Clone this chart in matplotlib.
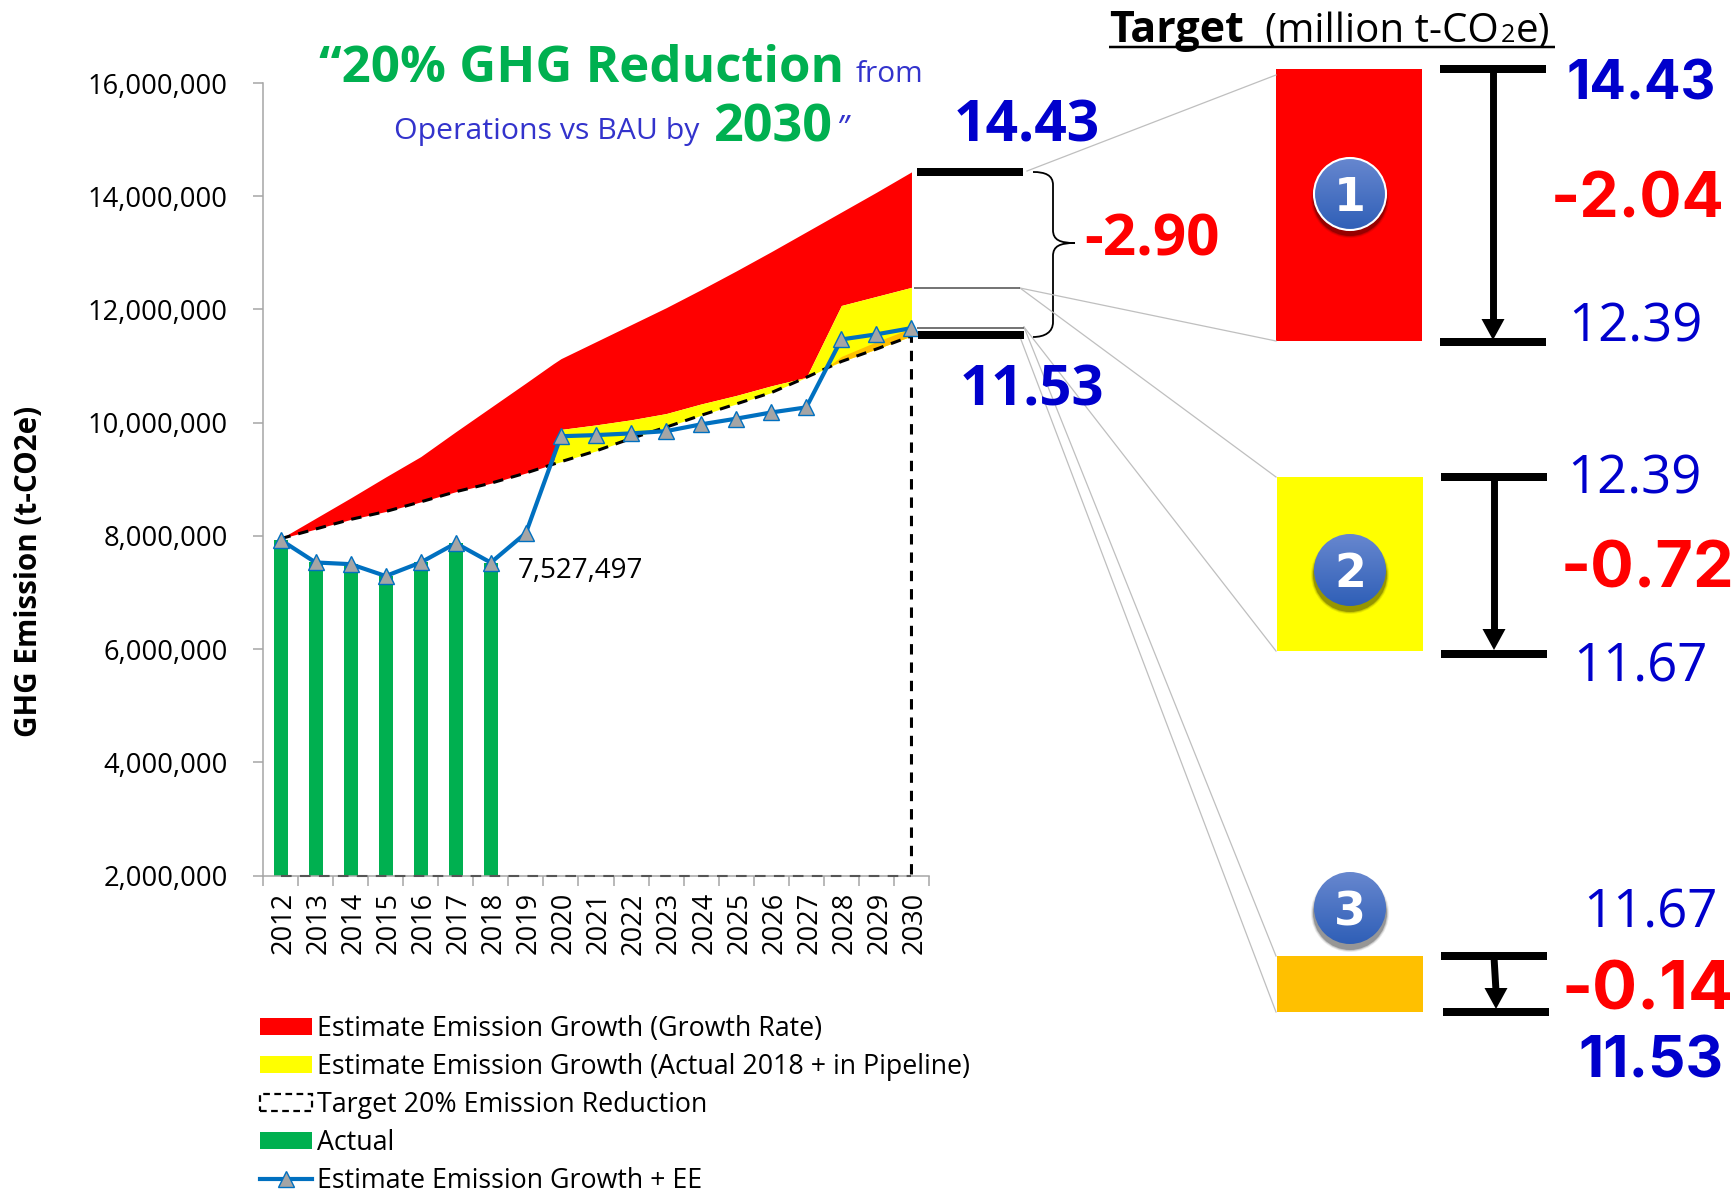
import numpy as np
import matplotlib
matplotlib.use("Agg")
import matplotlib.pyplot as plt
from matplotlib.patches import Rectangle, Circle, Patch, PathPatch, Polygon
from matplotlib.path import Path
from matplotlib.lines import Line2D
from matplotlib.ticker import FuncFormatter
from matplotlib.transforms import ScaledTranslation

plt.rcParams['font.family'] = ['Open Sans', 'DejaVu Sans']

# ---------- data ----------
years = list(range(2012, 2031))
actual = [7930000, 7530000, 7500000, 7290000, 7530000, 7870000, 7527497]
ee_growth = [7930000, 7530000, 7500000, 7290000, 7530000, 7870000, 7527497, 8050000,
             9760000, 9780000, 9810000, 9850000, 9970000, 10070000, 10180000, 10270000,
             11470000, 11560000, 11670000]
target = [7950000, 8120000, 8290000, 8430000, 8600000, 8780000, 8930000, 9110000,
          9310000, 9500000, 9720000, 9920000, 10130000, 10330000, 10530000, 10800000,
          11080000, 11300000, 11530000]
# area outlines (2019.78 is the kink where the yellow band starts)
fill_years = [2012, 2013, 2014, 2015, 2016, 2017, 2018, 2019, 2019.78, 2020, 2021, 2022,
              2023, 2024, 2025, 2026, 2027, 2028, 2029, 2030]
red_top = [7950000, 8310000, 8670000, 9040000, 9400000, 9840000, 10270000, 10700000,
           11040000, 11130000, 11430000, 11730000, 12030000, 12350000, 12680000,
           13020000, 13370000, 13720000, 14070000, 14430000]
yellow_top = [7950000, 8120000, 8290000, 8430000, 8600000, 8780000, 8930000, 9110000,
              9270000, 9880000, 9960000, 10050000, 10160000, 10330000, 10480000,
              10650000, 10800000, 12070000, 12230000, 12390000]
fill_base = [7950000, 8120000, 8290000, 8430000, 8600000, 8780000, 8930000, 9110000,
             9270000, 9310000, 9500000, 9720000, 9920000, 10130000, 10330000, 10530000,
             10800000, 11080000, 11300000, 11530000]
orange_years = [2027.62, 2028, 2029, 2030]
orange_base = [10990000, 11080000, 11300000, 11530000]
orange_top = [10990000, 11170000, 11430000, 11670000]
y_floor = 2000000
y_ticks = [2000000, 4000000, 6000000, 8000000, 10000000, 12000000, 14000000, 16000000]
label_2018 = "7,527,497"

legend_labels = ["Estimate Emission Growth (Growth Rate)",
                 "Estimate Emission Growth (Actual 2018 + in Pipeline)",
                 "Target 20% Emission Reduction", "Actual", "Estimate Emission Growth + EE"]

W, H = 1732, 1190
GREEN, BLUE, LBLUE, RED, YEL, ORG = '#00B050', '#0000CC', '#3333CC', '#FF0000', '#FFFF00', '#FFC000'
LINE, GRAY = '#0070C0', '#A5A5A5'
INTER = ['Inter', 'Open Sans', 'DejaVu Sans']
OPEN = ['Open Sans', 'DejaVu Sans']

fig = plt.figure(figsize=(W / 100, H / 100), dpi=100, facecolor='white')
L, R, T, B = 263, 929, 83, 875.5
ax = fig.add_axes([L / W, 1 - B / H, (R - L) / W, (B - T) / H])

# ---------- chart ----------
ax.fill_between(fill_years, yellow_top, red_top, color=RED, lw=0, zorder=1)
ax.fill_between(fill_years, fill_base, yellow_top, color=YEL, lw=0, zorder=1.1)
ax.fill_between(orange_years, orange_base, orange_top, color=ORG, lw=0, zorder=1.2)
ax.bar(years[:len(actual)], actual, width=0.4, color=GREEN, lw=0, zorder=2)
ax.plot(years + [2030], target + [y_floor], color='black', lw=2.2,
        dashes=(3.4, 2.6), zorder=3, clip_on=False)
ax.plot([2012, 2030], [y_floor, y_floor], color='#555555', lw=1.5,
        dashes=(5.1, 4), zorder=3, clip_on=False)
ax.plot(years, ee_growth, color=LINE, lw=3.0, marker='^', ms=11.5, mfc=GRAY, mec=LINE,
        mew=1.0, zorder=4, clip_on=False)

ax.set_xlim(2011.5, 2030.5)
ax.set_ylim(2000000, 16000000)
ax.set_yticks(y_ticks)
ax.yaxis.set_major_formatter(FuncFormatter(lambda v, p: f"{int(v):,}"))
ax.set_xticks([y - 0.5 for y in years] + [2030.5])
ax.set_xticklabels([])
ax.set_xticks(years, minor=True)
ax.set_xticklabels([str(y) for y in years], minor=True, rotation=90)
ax.tick_params(axis='y', length=7.2, width=1.1, color='#A6A6A6', labelsize=19.7, pad=18, labelcolor='black')
ax.tick_params(axis='x', which='major', length=7, width=1.1, color='#A6A6A6')
ax.tick_params(axis='x', which='minor', length=0, labelsize=19.5, pad=12)
shift = ScaledTranslation(3 / 100, 0, fig.dpi_scale_trans)
for lab in ax.xaxis.get_minorticklabels():
    lab.set_transform(lab.get_transform() + shift)
for s in ('top', 'right'):
    ax.spines[s].set_visible(False)
for s in ('left', 'bottom'):
    ax.spines[s].set_color('#A6A6A6')
    ax.spines[s].set_linewidth(1.1)
ax.set_zorder(1)

# ---------- overlay in pixel coordinates ----------
ov = fig.add_axes([0, 0, 1, 1], facecolor='none')
ov.set_xlim(0, W)
ov.set_ylim(H, 0)
ov.axis('off')
ov.set_zorder(2)


def txt(x, y, s, size, color='black', bold=False, ha='center', family=OPEN, **kw):
    ov.text(x, y, s, fontsize=size, color=color, fontweight='bold' if bold else 'normal',
            ha=ha, va='baseline', family=family, **kw)


def hbar(x0, x1, y, lw_px=8, color='black'):
    ov.plot([x0, x1], [y, y], color=color, lw=lw_px * 0.72, solid_capstyle='butt')


def arrow(x0, y0, x1, y1):
    ov.plot([x0, x1], [y0, y1 - 18], color='black', lw=5, solid_capstyle='butt')
    ov.add_patch(Polygon([(x1, y1), (x1 - 11.5, y1 - 21), (x1 + 11.5, y1 - 21)], closed=True, fc='black', lw=0))


# title
txt(319, 82, "\u201c20% GHG Reduction", 36.7, GREEN, True, ha='left')
txt(856, 82, "from", 21.5, LBLUE, ha='left')
txt(394, 139, "Operations vs BAU by", 21.8, LBLUE, ha='left')
txt(714, 141, "2030", 37.5, GREEN, True, ha='left')
txt(836, 139, "\u201d", 23, LBLUE, ha='left', style='italic')

# header
txt(1109, 42, "Target", 31, 'black', True, ha='left')
txt(1265, 42, "(million t-CO", 29, ha='left')
txt(1501, 42, "2", 18, ha='left')
txt(1516, 42, "e)", 29, ha='left')
hbar(1109, 1555, 47, 2.5)

# y title & point label
ov.text(29, 571, "GHG Emission (t-CO2e)", rotation=90, fontsize=21.3, fontweight='bold',
        ha='center', va='center', family=OPEN)
txt(518, 578, label_2018, 20, ha='left')

# connector lines
conn = [((1027, 171), (1276, 75)), ((1020, 288), (1276, 341)), ((1020, 288), (1276, 477)),
        ((1024, 327), (1276, 651)), ((1024, 327), (1276, 956)), ((1020, 337), (1276, 1012))]
for a, b in conn:
    ov.plot([a[0], b[0]], [a[1], b[1]], color='#BFBFBF', lw=0.9)

# left level bars
hbar(917, 1023, 172)
hbar(914, 1020, 288, 1.6, '#555555')
hbar(917, 1024, 327.5, 1.6, '#555555')
hbar(918, 1024, 335)
txt(1027, 141, "14.43", 41, BLUE, True)
txt(1032, 406, "11.53", 40.5, BLUE, True)
txt(1152, 255, "-2.90", 42, RED, True)

# brace
brace = Path([(1033, 172), (1045, 172), (1053, 175), (1053, 185), (1053, 230),
              (1053, 240), (1060, 243), (1075, 243),
              (1060, 243), (1053, 246), (1053, 256), (1053, 322),
              (1053, 332), (1045, 337), (1033, 337)],
             [Path.MOVETO, Path.CURVE4, Path.CURVE4, Path.CURVE4, Path.LINETO,
              Path.CURVE4, Path.CURVE4, Path.CURVE4,
              Path.CURVE4, Path.CURVE4, Path.CURVE4, Path.LINETO,
              Path.CURVE4, Path.CURVE4, Path.CURVE4])
ov.add_patch(PathPatch(brace, fc='none', ec='black', lw=1.3))

# boxes
ov.add_patch(Rectangle((1276, 69), 146, 272, fc=RED, lw=0))
ov.add_patch(Rectangle((1277, 477), 146, 174, fc=YEL, lw=0))
ov.add_patch(Rectangle((1277, 956), 146, 56, fc=ORG, lw=0))

# level bars with arrows
hbar(1440, 1546, 69); hbar(1440, 1546, 342); arrow(1493, 70, 1493, 340)
hbar(1441, 1547, 477); hbar(1441, 1547, 654); arrow(1494, 478, 1494, 650)
hbar(1441, 1547, 956); hbar(1443, 1549, 1012); arrow(1494, 957, 1496, 1009)

# right numbers
txt(1641, 99, "14.43", 39, BLUE, True, family=INTER)
txt(1638, 218, "-2.04", 45, RED, True, family=INTER)
txt(1635, 341, "12.39", 38, BLUE)
txt(1634, 493, "12.39", 38, BLUE)
txt(1640, 682, "11.67", 38, BLUE)
txt(1650, 928, "11.67", 38, BLUE)
txt(1647, 588, "-0.72", 46.5, RED, True, family=INTER)
txt(1648, 1009, "-0.14", 48, RED, True, family=INTER)
txt(1651, 1077, "11.53", 42, BLUE, True, family=INTER)

# numbered badges
grad = np.linspace(0, 1, 128).reshape(-1, 1)
cmap = matplotlib.colors.LinearSegmentedColormap.from_list('b', ['#6787CF', '#2F5FB7'])
for (cy, num, ring) in [(194, "1", True), (570, "2", False), (908, "3", False)]:
    cx, r = 1350, 36
    for k, a in zip((3, 2, 1), (0.08, 0.14, 0.25)):
        ov.add_patch(Circle((cx, cy + 5), r + k, fc='black', alpha=a, lw=0))
    im = ov.imshow(grad, extent=(cx - r, cx + r, cy + r, cy - r), cmap=cmap, aspect='auto', zorder=3)
    c = Circle((cx, cy), r, transform=ov.transData, fc='none', ec='white' if ring else 'none',
               lw=1.5, zorder=3.1)
    ov.add_patch(c)
    im.set_clip_path(Circle((cx, cy), r, transform=ov.transData))
    ov.text(cx, cy + 17, num, color='white', fontsize=33, fontweight='bold', ha='center',
            va='baseline', zorder=4, family='DejaVu Sans')
ov.set_xlim(0, W)
ov.set_ylim(H, 0)

# legend
handles = [Patch(fc=RED, lw=0), Patch(fc=YEL, lw=0),
           Patch(fc='white', ec='black', ls=(0, (3, 2)), lw=1.6),
           Patch(fc=GREEN, lw=0),
           Line2D([], [], color=LINE, lw=3, marker='^', ms=11, mfc=GRAY, mec=LINE, mew=1)]
fs = 19.3
px = fs * 100 / 72
leg = fig.legend(handles, legend_labels, loc='upper left', bbox_to_anchor=(260 / W, 1 - 1014.5 / H),
                 frameon=False, fontsize=fs, handlelength=52 / px, handleheight=16 / px,
                 handletextpad=5 / px, labelspacing=0.375, borderpad=0, borderaxespad=0)
leg.set_zorder(5)

fig.savefig('out.png', dpi=100, facecolor='white')
